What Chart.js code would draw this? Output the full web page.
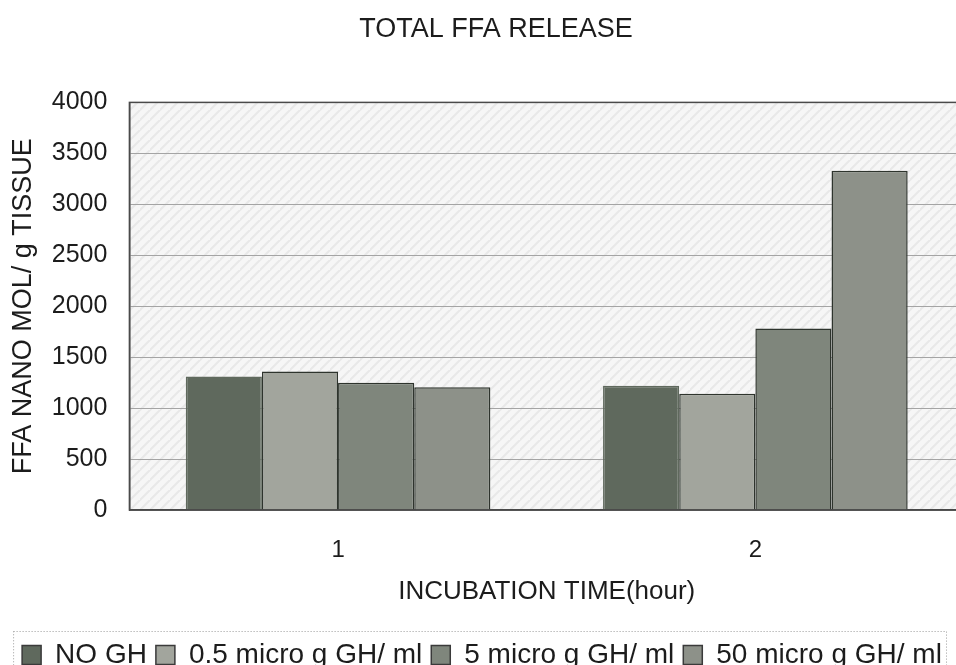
<!DOCTYPE html>
<html>
<head>
<meta charset="utf-8">
<script src="https://cdn.jsdelivr.net/npm/chart.js@4.4.1/dist/chart.umd.min.js"></script>
<style>
  html, body { margin: 0; padding: 0; background: #ffffff; overflow: hidden; }
  #wrap { position: relative; width: 956px; height: 665px; overflow: hidden; }
  canvas { display: block; }
</style>
</head>
<body>
<div id="wrap"><canvas id="chart" width="978" height="665"></canvas></div>
<script>
// Incubation time categories (hours)
const categories = ['1', '2'];

// Total FFA release, nmol / g tissue
const noGH   = [1310, 1220];
const gh05   = [1360, 1140];
const gh5    = [1250, 1780];
const gh50   = [1205, 3330];

const seriesNames = ['NO GH', '0.5 micro g GH/ ml', '5 micro g GH/ ml', '50 micro g GH/ ml'];
const yTicks = [0, 500, 1000, 1500, 2000, 2500, 3000, 3500, 4000];

const fills = ['#5f695d', '#a2a59d', '#7f867c', '#8d9189'];
const edge = '#2e342d';
const FONT = '"Liberation Sans", Arial, sans-serif';
const TEXT = '#1c1c1c';

// diagonal hatch used as the plot background
function hatchPattern(ctx) {
  const s = 10;
  const c = document.createElement('canvas');
  c.width = s; c.height = s;
  const g = c.getContext('2d');
  g.fillStyle = '#f6f6f6';
  g.fillRect(0, 0, s, s);
  g.strokeStyle = '#e8e8e8';
  g.lineWidth = 2;
  g.beginPath();
  g.moveTo(-2, s + 2); g.lineTo(s + 2, -2);
  g.moveTo(-s - 2, s + 2); g.lineTo(2, -2);
  g.moveTo(s - 2, 2 * s + 2); g.lineTo(2 * s + 2, s - 2);
  g.stroke();
  return ctx.createPattern(c, 'repeat');
}

const plotBackground = {
  id: 'plotBackground',
  afterLayout(chart) {
    // nudge the heading a little to the right of the canvas centre
    const t = chart.titleBlock;
    if (t) { t.left += 14; t.right += 14; }
  },
  beforeDraw(chart) {
    const {ctx, chartArea: a} = chart;
    ctx.save();
    ctx.fillStyle = hatchPattern(ctx);
    ctx.fillRect(a.left, a.top, a.right - a.left, a.bottom - a.top);
    ctx.restore();
  },
  afterDatasetsDraw(chart) {
    const {ctx, chartArea: a} = chart;
    ctx.save();
    ctx.strokeStyle = '#4a4a4a';
    ctx.lineWidth = 1.5;
    ctx.strokeRect(a.left, a.top, a.right - a.left, a.bottom - a.top);
    ctx.restore();
  },
  afterDraw(chart) {
    // dotted frame round the legend
    const lg = chart.legend;
    if (!lg || !lg.legendHitBoxes || !lg.legendHitBoxes.length) return;
    const boxes = lg.legendHitBoxes;
    const first = boxes[0], last = boxes[boxes.length - 1];
    const ctx = chart.ctx;
    ctx.save();
    ctx.strokeStyle = '#9a9a9a';
    ctx.lineWidth = 1;
    ctx.setLineDash([1, 2]);
    const x0 = first.left - 9, x1 = Math.min(last.left + last.width + 8, 946);
    const y0 = first.top - 10, y1 = first.top + first.height + 12;
    ctx.strokeRect(x0 + 0.5, y0 + 0.5, x1 - x0, y1 - y0);
    ctx.restore();
  }
};

const seriesData = [noGH, gh05, gh5, gh50];

new Chart(document.getElementById('chart'), {
  type: 'bar',
  data: {
    labels: categories,
    datasets: seriesData.map((vals, i) => ({
      label: seriesNames[i],
      data: vals,
      backgroundColor: fills[i],
      borderColor: i === 0 ? fills[0] : edge,
      borderWidth: 1.5,
      borderSkipped: 'bottom',
      categoryPercentage: 0.73,
      barPercentage: 1.0
    }))
  },
  options: {
    responsive: false,
    devicePixelRatio: 1,
    animation: false,
    layout: { padding: { left: 0, right: 14, top: 0, bottom: -14 } },
    plugins: {
      title: {
        display: true,
        text: 'TOTAL FFA RELEASE',
        color: TEXT,
        font: { family: FONT, size: 27, weight: 'normal' },
        padding: { top: 13, bottom: 57 }
      },
      legend: {
        position: 'bottom',
        labels: {
          color: TEXT,
          font: { family: FONT, size: 28 },
          boxWidth: 19,
          boxHeight: 19,
          padding: 9,
          generateLabels(chart) {
            return Chart.defaults.plugins.legend.labels.generateLabels(chart).map(l => {
              l.strokeStyle = '#3a3a3a';
              l.lineWidth = 1.5;
              return l;
            });
          }
        }
      },
      tooltip: { enabled: false }
    },
    scales: {
      x: {
        grid: { display: false, drawTicks: false },
        border: { display: true, color: '#4a4a4a', width: 1.5 },
        ticks: { color: TEXT, font: { family: FONT, size: 24 }, padding: 25.6 },
        title: {
          display: true,
          text: 'INCUBATION TIME(hour)',
          color: TEXT,
          font: { family: FONT, size: 26 },
          padding: { top: -13.6, bottom: 24.4 }
        }
      },
      y: {
        min: 0,
        max: 4000,
        afterBuildTicks(scale) { scale.ticks = yTicks.map(v => ({ value: v })); },
        grid: { color: '#a4a4a4', lineWidth: 1, drawTicks: false },
        border: { display: true, color: '#4a4a4a', width: 1.5 },
        ticks: {
          color: TEXT,
          font: { family: FONT, size: 25 },
          padding: 22,
          callback: v => String(v)
        },
        title: {
          display: true,
          text: 'FFA NANO MOL/ g TISSUE',
          color: TEXT,
          font: { family: FONT, size: 27 },
          padding: { top: 7.8, bottom: -10.4 }
        }
      }
    }
  },
  plugins: [plotBackground]
});
</script>
</body>
</html>
